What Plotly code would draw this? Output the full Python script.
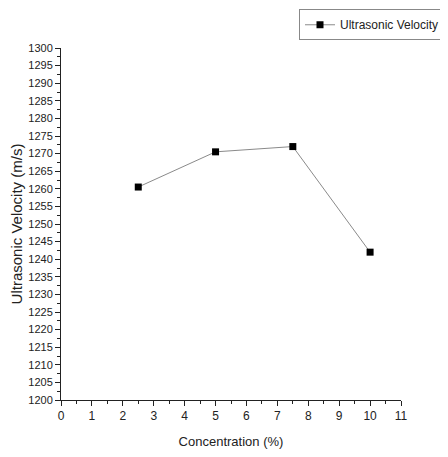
import plotly.graph_objects as go

concentration = [2.5, 5, 7.5, 10]
velocity = [1260.5, 1270.5, 1272, 1242]
series_name = "Ultrasonic Velocity"

FONT = "Liberation Sans Narrow, Arial Narrow, Liberation Sans, Arial"

fig = go.Figure()
fig.add_trace(go.Scatter(
    x=concentration, y=velocity, mode="lines+markers", name=series_name,
    line=dict(color="#8a8a8a", width=1),
    marker=dict(symbol="square", size=7, color="black"),
))

fig.update_layout(
    width=440, height=449,
    margin=dict(l=53, r=47, t=40, b=57, autoexpand=False),
    paper_bgcolor="white", plot_bgcolor="white",
    font=dict(family=FONT, size=11, color="#222"),
    showlegend=True,
    legend=dict(x=0.70, y=1.11, xanchor="left", yanchor="top",
                bordercolor="#888", borderwidth=1, bgcolor="white",
                font=dict(family=FONT, size=12, color="#222"),
                itemwidth=30, tracegroupgap=0),
    xaxis=dict(range=[0, 11], tickmode="linear", tick0=0, dtick=1,
               showline=True, linecolor="#222", linewidth=1,
               ticks="outside", ticklen=5, tickcolor="#222",
               minor=dict(dtick=0.5, ticks="outside", ticklen=3, tickcolor="#222"),
               showgrid=False, zeroline=False,
               title=dict(text="Concentration (%)", font=dict(family=FONT, size=13), standoff=14),
               tickfont=dict(size=12)),
    yaxis=dict(range=[1200, 1300], tickmode="linear", tick0=1200, dtick=5,
               showline=True, linecolor="#222", linewidth=1,
               ticks="outside", ticklen=5, tickcolor="#222",
               minor=dict(dtick=2.5, ticks="outside", ticklen=3, tickcolor="#222"),
               showgrid=False, zeroline=False,
               title=dict(text="Ultrasonic Velocity (m/s)", font=dict(family="Liberation Sans, Arial", size=15), standoff=8),
               tickfont=dict(size=11)),
)

fig.write_html("out.html")
